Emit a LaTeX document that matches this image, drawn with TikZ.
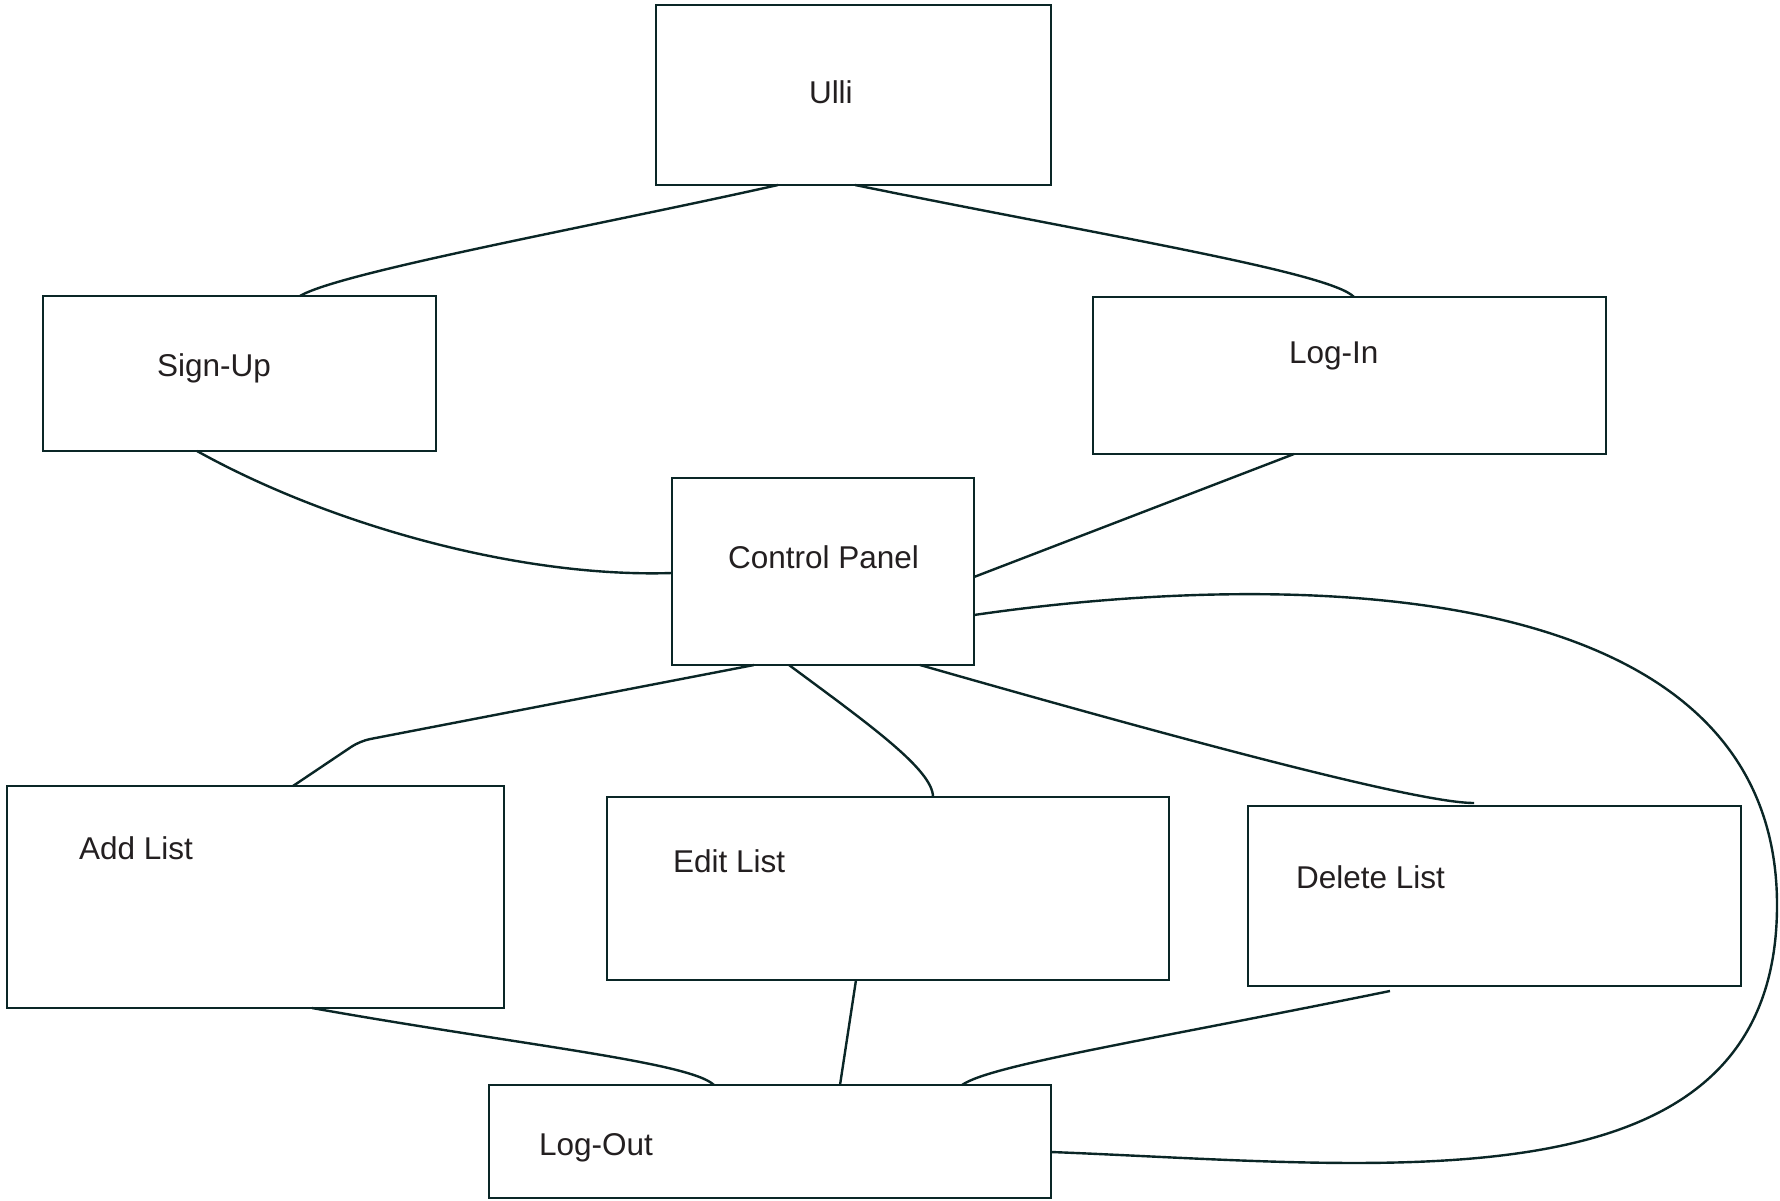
\documentclass[tikz,border=0pt]{standalone}
\usepackage{fontspec}
\setmainfont{Liberation Sans}
\usetikzlibrary{calc}
\definecolor{linec}{RGB}{10,38,38}
\definecolor{textc}{RGB}{35,31,32}
\begin{document}
\begin{tikzpicture}[x=1pt,y=-1pt,
  box/.style={draw=linec,line width=2.6pt,inner sep=0pt,outer sep=0pt,fill=white},
  lbl/.style={anchor=base west,inner sep=0pt,outer sep=0pt,text=textc,font=\fontsize{31.5}{36}\selectfont},
  conn/.style={draw=linec,line width=2.4pt}]
\useasboundingbox[fill=white] (0,0) rectangle (1780,1201);
% boxes
\node[box,minimum width=395pt,minimum height=180pt] (ulli) at (853.5,95) {};
\node[box,minimum width=393pt,minimum height=155pt] (signup) at (239.5,373.5) {};
\node[box,minimum width=513pt,minimum height=157pt] (login) at (1349.5,375.5) {};
\node[box,minimum width=302pt,minimum height=187pt] (cp) at (823,571.5) {};
\node[box,minimum width=497pt,minimum height=222pt] (addl) at (255.5,897) {};
\node[box,minimum width=562pt,minimum height=183pt] (editl) at (888,888.5) {};
\node[box,minimum width=493pt,minimum height=180pt] (dell) at (1494.5,896) {};
\node[box,minimum width=562pt,minimum height=113pt] (logout) at (770,1141.5) {};
% labels
\node[lbl] (tulli) at (809,104) {Ulli};
\node[lbl] (tsignup) at (157,376) {Sign-Up};
\node[lbl] (tlogin) at (1289,363) {Log-In};
\node[lbl] (tcp) at (728,568) {Control Panel};
\node[lbl] (taddl) at (79,859) {Add List};
\node[lbl] (teditl) at (673,872) {Edit List};
\node[lbl] (tdell) at (1296,888) {Delete List};
\node[lbl] (tlogout) at (539,1155) {Log-Out};
% connectors
\draw[conn] ([xshift=-75.5pt]ulli.south) .. controls (600,225) and (340,272) .. ([xshift=60.5pt]signup.north);
\draw[conn] ([xshift=1.5pt]ulli.south) .. controls (1100,235) and (1330,272) .. ([xshift=4.5pt]login.north);
\draw[conn] ([xshift=-42.5pt]signup.south) .. controls (330,525) and (520,578) .. ([yshift=-1.5pt]cp.west);
\draw[conn] ([xshift=-55.5pt]login.south) -- ([yshift=-5.5pt]cp.east);
\draw[conn] ([yshift=-43.5pt]cp.east) .. controls (1270,572) and (1777,565) .. (1777,905)
   .. controls (1777,1215) and (1390,1165) .. ([yshift=-10.5pt]logout.east);
\draw[conn,rounded corners=10pt] ([xshift=-69pt]cp.south) -- (360,741) -- ([xshift=37.5pt]addl.north);
\draw[conn] ([xshift=-34pt]cp.south) .. controls (870,725) and (933,770) .. ([xshift=45pt]editl.north);
\draw[conn] ([xshift=97pt]cp.south) .. controls (1200,745) and (1420,803) .. ([xshift=-20.5pt,yshift=3pt]dell.north);
\draw[conn] ([xshift=56.5pt]addl.south) .. controls (520,1045) and (690,1062) .. ([xshift=-56pt]logout.north);
\draw[conn] ([xshift=-32pt]editl.south) -- ([xshift=70pt]logout.north);
\draw[conn] ([xshift=-104.5pt,yshift=-5pt]dell.south) .. controls (1150,1040) and (990,1065) .. ([xshift=192pt]logout.north);
\end{tikzpicture}
\end{document}
